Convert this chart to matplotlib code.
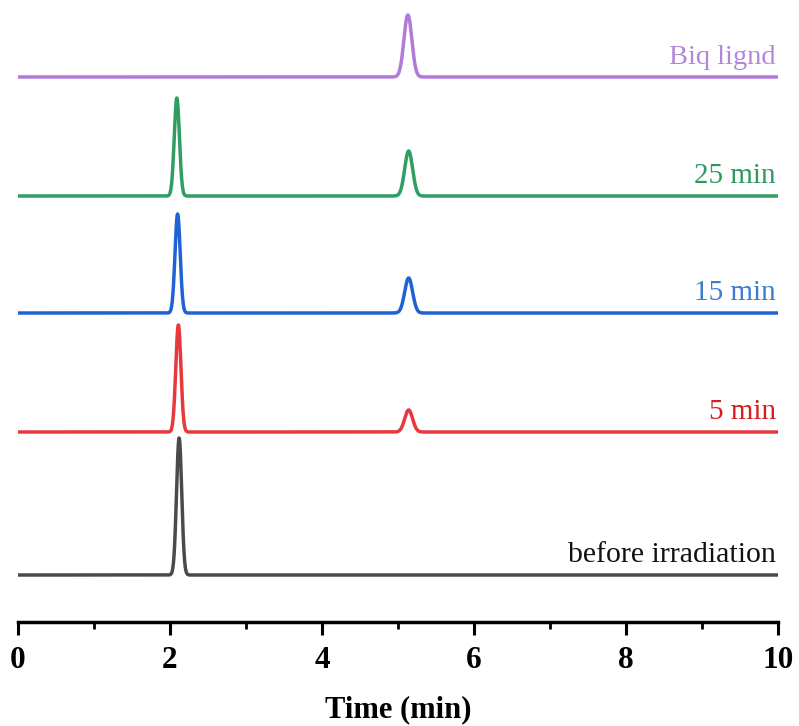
import numpy as np
import matplotlib
matplotlib.use("Agg")
import matplotlib.pyplot as plt
from matplotlib.ticker import MultipleLocator

# ---- data ----
series_names = ["before irradiation", "5 min", "15 min", "25 min", "Biq lignd"]
peak1_time = [2.12, 2.11, 2.10, 2.09, None]      # min
peak1_height = [137, 107, 99, 98, 0]             # arbitrary units
peak2_time = [None, 5.14, 5.14, 5.14, 5.13]
peak2_height = [0, 22, 35, 45, 62]
peak1_sigma = 0.034
peak2_sigma = 0.052
x_ticks = [0, 2, 4, 6, 8, 10]

# ---- layout / style ----
offsets = [47, 190, 309, 426, 545]
line_colors = ["#4a4a4a", "#e8383c", "#1f62d6", "#2f9e60", "#b27ad9"]
label_colors = ["#111111", "#d61f1f", "#3f7ccc", "#2f9a60", "#b287d8"]
label_sizes = [21.5, 21, 21, 21, 20.5]

plt.rcParams['font.family'] = ['Liberation Serif', 'DejaVu Serif']

fig = plt.figure(figsize=(7.99, 7.26), dpi=100)
ax = fig.add_axes([18 / 799, (726 - 622) / 726, 760 / 799, 622 / 726])

t = np.linspace(0, 10, 4001)
for i, name in enumerate(series_names):
    y = np.full_like(t, float(offsets[i]))
    if peak1_time[i] is not None:
        y += peak1_height[i] * np.exp(-0.5 * ((t - peak1_time[i]) / peak1_sigma) ** 2)
    if peak2_time[i] is not None:
        y += peak2_height[i] * np.exp(-0.5 * ((t - peak2_time[i]) / peak2_sigma) ** 2)
    ax.plot(t, y, color=line_colors[i], lw=2.5, clip_on=False, solid_capstyle='butt')
    ax.text(9.97, offsets[i] + 7, name, ha='right', va='bottom',
            color=label_colors[i], fontsize=label_sizes[i])

ax.set_xlim(0, 10)
ax.set_ylim(0, 622)
for s in ['left', 'right', 'top']:
    ax.spines[s].set_visible(False)
ax.spines['bottom'].set_linewidth(2.5)
ax.set_yticks([])
ax.set_xticks(x_ticks)
ax.xaxis.set_minor_locator(MultipleLocator(1))
ax.tick_params(axis='x', which='major', direction='out', length=9, width=2.2,
               labelsize=22.5, pad=8)
ax.tick_params(axis='x', which='minor', direction='out', length=5, width=2.0)
for lab in ax.get_xticklabels():
    lab.set_fontweight('bold')
ax.set_xlabel("Time (min)", fontsize=22, fontweight='bold', labelpad=15)

fig.savefig("out.png", dpi=100)
